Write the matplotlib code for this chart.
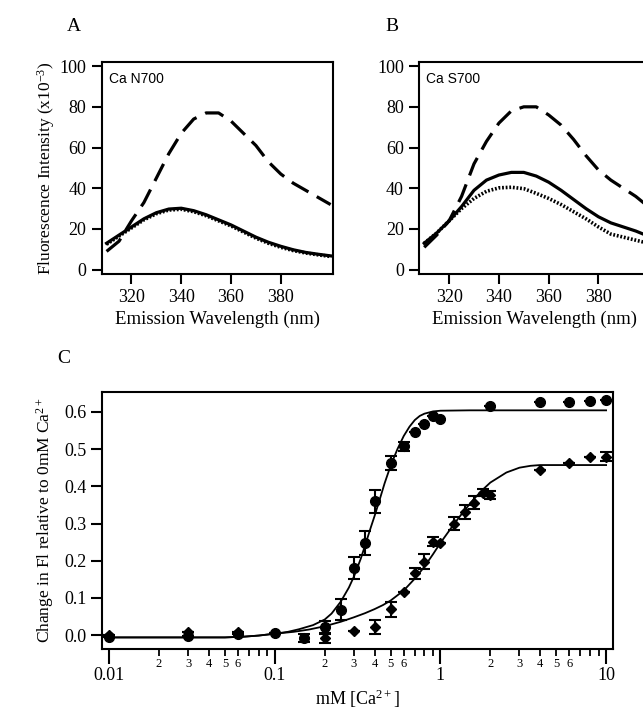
import matplotlib
matplotlib.use("Agg")
import matplotlib.pyplot as plt
from matplotlib.ticker import LogLocator, FuncFormatter, FixedLocator

plt.rcParams['font.family'] = ['Liberation Serif', 'DejaVu Serif']
plt.rcParams['mathtext.fontset'] = 'custom'
plt.rcParams['mathtext.rm'] = 'Liberation Serif'
plt.rcParams['mathtext.it'] = 'Liberation Serif:italic'
plt.rcParams['axes.linewidth'] = 1.5

# ---- panel A / B : emission spectra (x10^-3) ----
wl = [310, 315, 320, 325, 330, 335, 340, 345, 350, 355,
      360, 365, 370, 375, 380, 385, 390, 395, 400]

n700_dash = [9, 14, 24, 33, 45, 57, 67, 74, 77, 77,
             73, 67, 61, 53, 47, 42.5, 39, 35.5, 32]
n700_solid = [13, 17, 21, 25, 28, 29.8, 30.2, 29, 27, 24.5,
              22, 19, 16, 13.5, 11.5, 9.8, 8.5, 7.6, 6.8]
n700_dot = [12.5, 16.5, 20.5, 24.5, 27.5, 29.3, 29.7, 28.5, 26.5, 24,
            21.5, 18.5, 15.5, 13, 11, 9.4, 8.2, 7.3, 6.5]

s700_dash = [11, 17, 24, 36, 52, 63, 72, 78, 80, 80,
             76, 71, 64, 56, 49, 44, 40, 36, 31]
s700_solid = [13, 18, 24, 31, 39, 44, 46.5, 47.8, 47.8, 46,
              43, 39, 34.5, 30, 26, 23, 21, 19, 16.5]
s700_dot = [13, 18, 24, 30, 35, 38.5, 40.2, 40.5, 39.8, 37.5,
            35, 32, 28.5, 25, 21, 17.5, 16, 14.5, 13]

# ---- panel C : titration ----
circ_x = [0.01, 0.03, 0.06, 0.1, 0.15, 0.2, 0.25, 0.3, 0.35, 0.4, 0.5,
          0.6, 0.7, 0.8, 0.9, 1.0, 2, 4, 6, 8, 10]
circ_y = [-0.004, -0.003, 0.003, 0.005, -0.007, 0.022, 0.068, 0.18, 0.248,
          0.36, 0.463, 0.508, 0.547, 0.566, 0.589, 0.581, 0.616, 0.627,
          0.627, 0.63, 0.632]
circ_err = [0, 0, 0, 0, 0.011, 0.015, 0.028, 0.03, 0.033, 0.031, 0.018,
            0.012, 0, 0, 0, 0, 0, 0, 0, 0, 0]

dia_x = [0.01, 0.03, 0.06, 0.1, 0.2, 0.3, 0.4, 0.5, 0.6, 0.7, 0.8, 0.9,
         1.0, 1.2, 1.4, 1.6, 1.8, 2.0, 4, 6, 8, 10]
dia_y = [0.0, 0.009, 0.009, 0.005, -0.008, 0.011, 0.022, 0.069, 0.116,
         0.166, 0.197, 0.251, 0.248, 0.30, 0.331, 0.356, 0.383, 0.376,
         0.444, 0.462, 0.479, 0.479]
dia_err = [0, 0, 0, 0, 0.012, 0, 0.018, 0.02, 0, 0.014, 0.02, 0.012,
           0, 0.018, 0.018, 0.017, 0.01, 0.01, 0, 0, 0, 0.012]

# fitted curves
fit1_x = [0.01, 0.05, 0.065, 0.08, 0.1, 0.12, 0.14, 0.17, 0.2, 0.22, 0.25,
          0.28, 0.3, 0.33, 0.35, 0.38, 0.4, 0.43, 0.46, 0.5, 0.55, 0.6,
          0.65, 0.7, 0.75, 0.8, 0.9, 1.0, 1.5, 10]
fit1_y = [-0.006, -0.006, -0.004, -0.001, 0.004, 0.009, 0.016, 0.027,
          0.042, 0.058, 0.09, 0.128, 0.157, 0.205, 0.24, 0.29, 0.32,
          0.365, 0.408, 0.455, 0.50, 0.535, 0.56, 0.578, 0.589, 0.595,
          0.601, 0.603, 0.604, 0.604]
fit2_x = [0.01, 0.05, 0.065, 0.08, 0.1, 0.13, 0.16, 0.2, 0.25, 0.3, 0.35,
          0.4, 0.45, 0.5, 0.6, 0.7, 0.8, 0.9, 1.0, 1.2, 1.4, 1.6, 1.8,
          2.0, 2.5, 3, 3.5, 4, 10]
fit2_y = [-0.006, -0.006, -0.004, -0.001, 0.004, 0.009, 0.015, 0.024,
          0.036, 0.048, 0.059, 0.07, 0.081, 0.093, 0.12, 0.152, 0.184,
          0.217, 0.248, 0.297, 0.336, 0.367, 0.391, 0.41, 0.437, 0.45,
          0.455, 0.457, 0.457]

fig = plt.figure(figsize=(6.43, 7.13), dpi=100)


def spectrum_panel(rect, dash, solid, dot, tag, letter, ylabel=None):
    ax = fig.add_axes(rect)
    ax.plot(wl, dash, color='black', lw=2.3, dashes=(6, 3))
    ax.plot(wl, solid, color='black', lw=2.3)
    ax.plot(wl, dot, color='black', lw=2.6, linestyle=(0, (0.5, 0.5)))
    ax.set_xlim(308, 401)
    ax.set_ylim(-2, 102)
    ax.set_xticks([320, 340, 360, 380])
    ax.set_yticks([0, 20, 40, 60, 80, 100])
    ax.tick_params(direction='out', length=7, width=1.5, labelsize=13, pad=4)
    ax.set_xlabel('Emission Wavelength (nm)', fontsize=13.5, labelpad=3)
    if ylabel:
        ax.set_ylabel(ylabel, fontsize=12.5, labelpad=2)
    ax.text(0.03, 0.92, tag, transform=ax.transAxes, fontsize=10,
            family=['Liberation Sans', 'DejaVu Sans'], va='center')
    ax.text(-0.12, 1.17, letter, transform=ax.transAxes, fontsize=14,
            va='center', ha='center')
    return ax


spectrum_panel([0.158, 0.616, 0.360, 0.297], n700_dash, n700_solid, n700_dot,
               'Ca N700', 'A', 'Fluorescence Intensity (x10$^{-3}$)')
spectrum_panel([0.652, 0.616, 0.360, 0.297], s700_dash, s700_solid, s700_dot,
               'Ca S700', 'B')

axc = fig.add_axes([0.159, 0.0893, 0.795, 0.3613])
axc.set_xscale('log')
axc.plot(fit1_x, fit1_y, color='black', lw=1.3)
axc.plot(fit2_x, fit2_y, color='black', lw=1.3)
axc.errorbar(circ_x, circ_y, yerr=circ_err, fmt='o', color='black',
             ms=7, capsize=4, elinewidth=1.5, capthick=1.5)
axc.errorbar(dia_x, dia_y, yerr=dia_err, fmt='D', color='black',
             ms=5.5, capsize=4, elinewidth=1.5, capthick=1.5)
axc.set_xlim(0.00908, 11.07)
axc.set_ylim(-0.038, 0.654)
axc.set_yticks([0.0, 0.1, 0.2, 0.3, 0.4, 0.5, 0.6])
axc.yaxis.set_major_formatter(FuncFormatter(lambda v, p: '%.1f' % v))
axc.xaxis.set_major_locator(FixedLocator([0.01, 0.1, 1, 10]))
axc.xaxis.set_major_formatter(FuncFormatter(lambda v, p: '%g' % v))
axc.xaxis.set_minor_locator(LogLocator(base=10, subs=range(2, 10), numticks=20))


def minor_label(v, p):
    # only 2..6 are labelled in each decade
    d = int(('%.0e' % v)[0])
    return str(d) if 2 <= d <= 6 else ''


axc.xaxis.set_minor_formatter(FuncFormatter(minor_label))
axc.tick_params(axis='both', which='major', direction='out', length=8,
                width=1.5, labelsize=13, pad=3)
axc.tick_params(axis='x', which='major', length=11, pad=2)
axc.tick_params(axis='x', which='minor', direction='out', length=5,
                width=1.3, labelsize=9, pad=1)
axc.set_xlabel('mM [Ca$^{2+}$]', fontsize=13, labelpad=2)
axc.set_ylabel('Change in Fl relative to 0mM Ca$^{2+}$', fontsize=12.5,
               labelpad=6)
axc.text(-0.076, 1.13, 'C', transform=axc.transAxes, fontsize=14,
         va='center', ha='center')

fig.savefig('out.png', dpi=100)
